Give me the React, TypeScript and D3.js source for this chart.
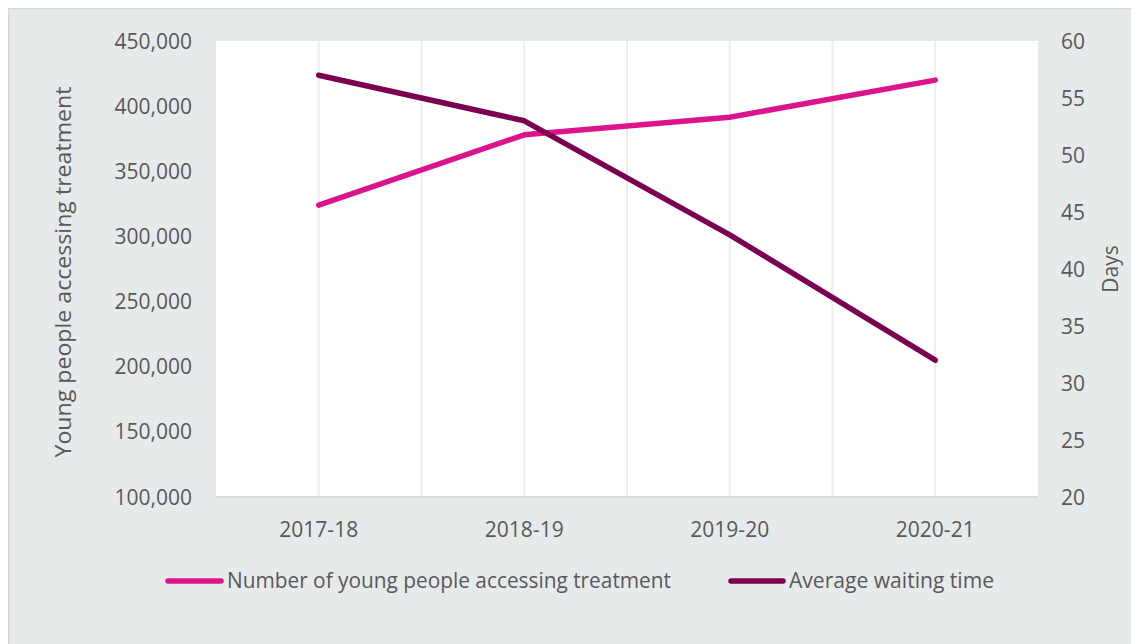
import React from "react";
import * as d3 from "d3";

const categories = ["2017-18", "2018-19", "2019-20", "2020-21"];
const youngPeople = [324000, 378000, 391500, 420000];
const waitingDays = [57, 53, 43, 32];
const leftTicks = [100000, 150000, 200000, 250000, 300000, 350000, 400000, 450000];
const rightTicks = [20, 25, 30, 35, 40, 45, 50, 55, 60];

const PINK = "#dc148b";
const PLUM = "#7b0052";
const TXT = "#595959";
const FONT = "'Open Sans', sans-serif";

export default function App() {
  const W = 1131, H = 636;
  // svg placed at page offset (8,8); coordinates below are in page px minus 8
  const ox = -8, oy = -8;
  const left = 216 + ox, right = 1038 + ox, top = 41 + oy, bottom = 497 + oy;

  const x = d3.scaleBand<string>().domain(categories).range([left, right]).paddingInner(0).paddingOuter(0);
  const yL = d3.scaleLinear().domain([100000, 450000]).range([bottom, top]);
  const yR = d3.scaleLinear().domain([20, 60]).range([bottom, top]);
  const cx = (c: string) => (x(c) as number) + x.bandwidth() / 2;

  const lineL = d3.line<number>().x((_, i) => cx(categories[i])).y((d) => yL(d));
  const lineR = d3.line<number>().x((_, i) => cx(categories[i])).y((d) => yR(d));
  const fmt = d3.format(",");

  const grids: number[] = [];
  categories.forEach((c, i) => {
    grids.push(cx(c));
    if (i > 0) grids.push(x(c) as number);
  });

  return (
    <svg width={W} height={H} style={{ display: "block", fontFamily: FONT }}>
      <rect x={0.5} y={0.5} width={W + 10} height={H + 10} fill="#e7eaeb" stroke="#d4d6d7" strokeWidth={1.5} />
      <rect x={left} y={top} width={right - left} height={bottom - top} fill="#ffffff" />
      {grids.map((g, i) => (
        <line key={i} x1={g} x2={g} y1={top} y2={bottom} stroke="#ededed" strokeWidth={2} />
      ))}
      <line x1={left} x2={right} y1={bottom} y2={bottom} stroke="#d9d9d9" strokeWidth={2} />

      {leftTicks.map((t) => (
        <text key={t} x={192 + ox} y={yL(t)} dy="0.36em" textAnchor="end" fontSize={21} fill={TXT}>
          {fmt(t)}
        </text>
      ))}
      {rightTicks.map((t) => (
        <text key={t} x={1061 + ox} y={yR(t)} dy="0.36em" textAnchor="start" fontSize={21} fill={TXT}>
          {t}
        </text>
      ))}
      {categories.map((c) => (
        <text key={c} x={cx(c)} y={537 + oy} textAnchor="middle" fontSize={21} fill={TXT}>
          {c}
        </text>
      ))}

      <text transform={`translate(${71 + ox},${272 + oy}) rotate(-90)`} textAnchor="middle" fontSize={21} fill={TXT}
        textLength={371} lengthAdjust="spacingAndGlyphs">
        Young people accessing treatment
      </text>
      <text transform={`translate(${1118 + ox},${269 + oy}) rotate(-90)`} textAnchor="middle" fontSize={21} fill={TXT}>
        Days
      </text>

      <path d={lineL(youngPeople) || ""} fill="none" stroke={PINK} strokeWidth={5.5} strokeLinecap="round" strokeLinejoin="round" />
      <path d={lineR(waitingDays) || ""} fill="none" stroke={PLUM} strokeWidth={5.5} strokeLinecap="round" strokeLinejoin="round" />

      <line x1={168 + ox} x2={221 + ox} y1={581 + oy} y2={581 + oy} stroke={PINK} strokeWidth={5.5} strokeLinecap="round" />
      <text x={227 + ox} y={588 + oy} fontSize={21} fill={TXT} textLength={444} lengthAdjust="spacingAndGlyphs">
        Number of young people accessing treatment
      </text>
      <line x1={731 + ox} x2={783 + ox} y1={581 + oy} y2={581 + oy} stroke={PLUM} strokeWidth={5.5} strokeLinecap="round" />
      <text x={789 + ox} y={588 + oy} fontSize={21} fill={TXT} textLength={205} lengthAdjust="spacingAndGlyphs">
        Average waiting time
      </text>
    </svg>
  );
}
